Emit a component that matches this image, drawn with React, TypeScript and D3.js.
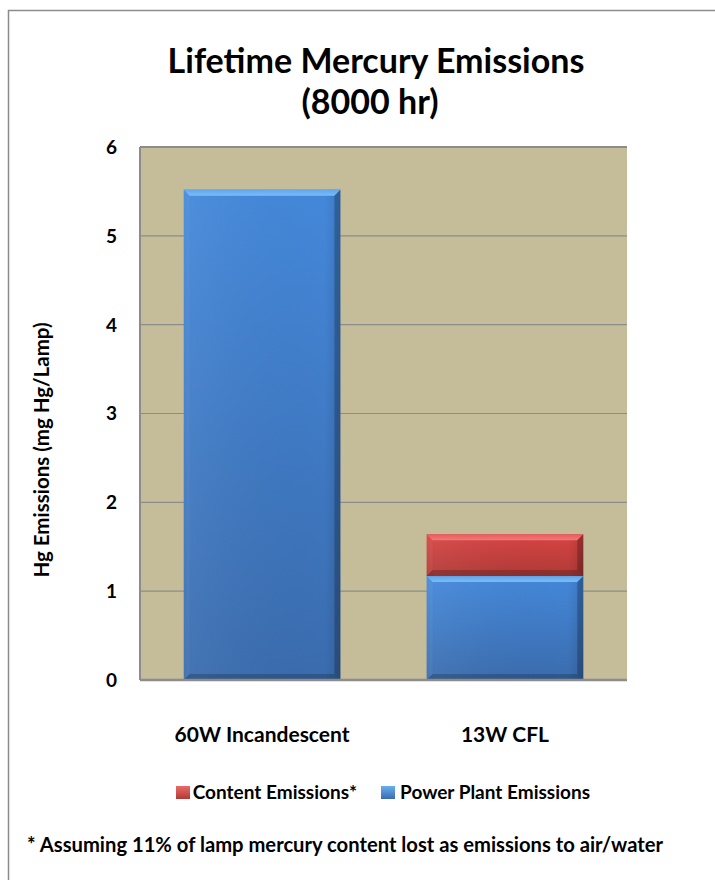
import React from "react";
import * as d3 from "d3";

const categories = ["60W Incandescent", "13W CFL"];
const powerPlant = [5.52, 1.17];
const content = [0, 0.47];
const yTicks = [0, 1, 2, 3, 4, 5, 6];
const seriesNames = ["Content Emissions*", "Power Plant Emissions"];

const W = 715;
const H = 880;
const plot = { left: 140, top: 147, right: 627, bottom: 680 };
const FONT = "Lato, 'Open Sans', sans-serif";

function Bevel({ x0, x1, y0, y1, id }: { x0: number; x1: number; y0: number; y1: number; id: string }) {
  const b = 6;
  return (
    <g>
      <rect x={x0} y={y0} width={x1 - x0} height={y1 - y0} fill={`url(#${id}-v)`} />
      <rect x={x0} y={y0} width={x1 - x0} height={y1 - y0} fill="url(#edgeH)" />
      <polygon points={`${x0},${y0} ${x1},${y0} ${x1 - b},${y0 + b} ${x0 + b},${y0 + b}`} fill={`url(#${id}-top)`} />
      <polygon points={`${x1},${y0} ${x1},${y1} ${x1 - b},${y1 - b} ${x1 - b},${y0 + b}`} fill="rgba(0,0,0,0.22)" />
      <polygon points={`${x0},${y1} ${x1},${y1} ${x1 - b},${y1 - b} ${x0 + b},${y1 - b}`} fill="rgba(0,0,0,0.2)" />
      <polygon points={`${x0},${y0} ${x0},${y1} ${x0 + b},${y1 - b} ${x0 + b},${y0 + b}`} fill="rgba(255,255,255,0.06)" />
    </g>
  );
}

export default function App() {
  const x = d3
    .scaleBand<string>()
    .domain(categories)
    .range([plot.left, plot.right])
    .paddingInner(0.355)
    .paddingOuter(0.18);
  const y = d3.scaleLinear().domain([0, 6]).range([plot.bottom, plot.top]);

  const stack = categories.map((c, i) => ({
    c,
    blue: [0, powerPlant[i]],
    red: [powerPlant[i], powerPlant[i] + content[i]],
  }));

  return (
    <svg width={W} height={H} style={{ display: "block", position: "absolute", left: 0, top: 0 }} fontFamily={FONT}>
      <defs>
        <linearGradient id="blue-v" x1="0" y1="0" x2="0" y2="1">
          <stop offset="0" stopColor="#4488da" />
          <stop offset="1" stopColor="#3a6cae" />
        </linearGradient>
        <linearGradient id="red-v" x1="0" y1="0" x2="0" y2="1">
          <stop offset="0" stopColor="#d84444" />
          <stop offset="1" stopColor="#b03a36" />
        </linearGradient>
        <linearGradient id="blue-top" x1="0" y1="0" x2="0" y2="1">
          <stop offset="0" stopColor="#5ea6ee" />
          <stop offset="1" stopColor="#7cbcf6" />
        </linearGradient>
        <linearGradient id="red-top" x1="0" y1="0" x2="0" y2="1">
          <stop offset="0" stopColor="#e85c5c" />
          <stop offset="1" stopColor="#f07a78" />
        </linearGradient>
        <linearGradient id="edgeH" x1="0" y1="0" x2="1" y2="0">
          <stop offset="0" stopColor="#ffffff" stopOpacity="0.0" />
          <stop offset="0.05" stopColor="#ffffff" stopOpacity="0.05" />
          <stop offset="0.9" stopColor="#000000" stopOpacity="0.0" />
          <stop offset="1" stopColor="#000000" stopOpacity="0.12" />
        </linearGradient>
        <linearGradient id="legBlue" x1="0" y1="0" x2="0" y2="1">
          <stop offset="0" stopColor="#6aaef0" />
          <stop offset="1" stopColor="#3a6cae" />
        </linearGradient>
        <linearGradient id="legRed" x1="0" y1="0" x2="0" y2="1">
          <stop offset="0" stopColor="#ec6a68" />
          <stop offset="1" stopColor="#b03a36" />
        </linearGradient>
      </defs>
      <rect x={0} y={0} width={W} height={H} fill="#ffffff" />
      <rect x={8.5} y={10.5} width={W + 20} height={H + 20} fill="none" stroke="#8c8c8c" strokeWidth={1.5} />

      <text x={376} y={73} textAnchor="middle" fontSize={34} fontWeight={700} fill="#000">
        Lifetime Mercury Emissions
      </text>
      <text x={370} y={114} textAnchor="middle" fontSize={34} fontWeight={700} fill="#000">
        (8000 hr)
      </text>

      <rect x={plot.left} y={plot.top} width={plot.right - plot.left} height={plot.bottom - plot.top} fill="#c5bd99" />
      {yTicks.map((t) => (
        <line key={t} x1={plot.left} x2={plot.right} y1={y(t)} y2={y(t)} stroke="#8c8c8c" strokeWidth={t === 6 ? 2 : 1.2} />
      ))}
      <line x1={plot.left} x2={plot.left} y1={plot.top} y2={plot.bottom} stroke="#8c8c8c" strokeWidth={2} />

      {stack.map((s) => {
        const x0 = x(s.c)!;
        const x1 = x0 + x.bandwidth();
        return (
          <g key={s.c}>
            <Bevel id="blue" x0={x0} x1={x1} y0={y(s.blue[1])} y1={y(s.blue[0])} />
            {s.red[1] > s.red[0] && <Bevel id="red" x0={x0} x1={x1} y0={y(s.red[1])} y1={y(s.red[0])} />}
          </g>
        );
      })}
      <line x1={plot.left} x2={plot.right} y1={plot.bottom} y2={plot.bottom} stroke="#8c8c8c" strokeWidth={2.5} />

      {yTicks.map((t) => (
        <text key={t} x={117} y={y(t)} dy="0.36em" textAnchor="end" fontSize={19} fontWeight={700} fill="#000">
          {t}
        </text>
      ))}
      <text
        transform={`translate(42, 450) rotate(-90)`}
        textAnchor="middle"
        dy="0.36em"
        fontSize={20.5}
        fontWeight={700}
        fill="#000"
      >
        Hg Emissions (mg Hg/Lamp)
      </text>

      {categories.map((c) => (
        <text key={c} x={x(c)! + x.bandwidth() / 2} y={742} textAnchor="middle" fontSize={21} fontWeight={700} fill="#000">
          {c}
        </text>
      ))}

      <rect x={176} y={786} width={14} height={13} fill="url(#legRed)" />
      <text x={357} y={799} textAnchor="end" fontSize={19} fontWeight={700} fill="#000">
        {seriesNames[0]}
      </text>
      <rect x={381} y={786} width={14} height={13} fill="url(#legBlue)" />
      <text x={590} y={799} textAnchor="end" fontSize={19} fontWeight={700} fill="#000">
        {seriesNames[1]}
      </text>

      <text x={27} y={852} fontSize={20.2} fontWeight={700} fill="#000">
        * Assuming 11% of lamp mercury content lost as emissions to air/water
      </text>
    </svg>
  );
}
